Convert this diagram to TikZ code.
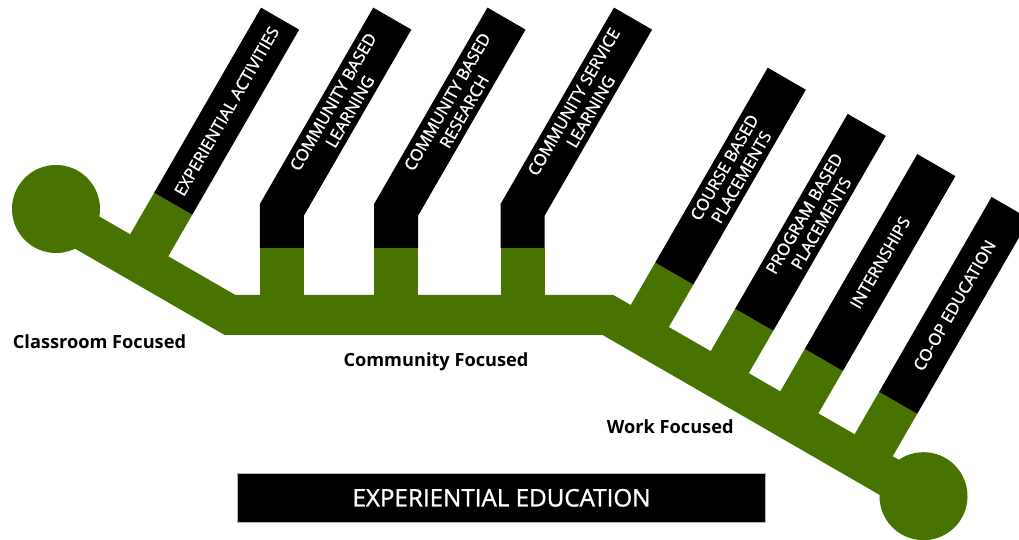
\documentclass[tikz,border=0pt]{standalone}
\usepackage{fontspec}
\setmainfont{Open Sans}
\usetikzlibrary{calc}
\definecolor{trunkgreen}{RGB}{71,115,0}
\begin{document}
\begin{tikzpicture}[x=1pt,y=1pt,
  trunk/.style={line width=40pt, draw=trunkgreen, line join=miter},
  stub/.style={line width=44pt, draw=trunkgreen},
  bar/.style={line width=44pt, draw=black, line join=miter},
  endball/.style={circle, fill=trunkgreen, minimum size=88pt, inner sep=0pt},
  lbl/.style={text=white, font=\fontsize{16.5}{19.5}\selectfont\addfontfeature{FakeBold=1.2}, align=center, rotate=60, inner sep=0pt},
  focus/.style={font=\fontsize{18.2}{21}\selectfont\bfseries, anchor=base west, inner sep=0pt},
  titlebox/.style={draw=gray!60, fill=black, minimum width=528pt, minimum height=49pt, inner sep=0pt, text=white, font=\fontsize{24.2}{28}\selectfont\addfontfeature{FakeBold=1.2}}
]
\useasboundingbox (0,0) rectangle (1019,540);
\clip (0,0) rectangle (1019,540);
% trunk
\coordinate (A) at (56,325.4);
\coordinate (B) at (230,225);
\coordinate (C) at (608,225);
\coordinate (D) at (925,42);
\draw[trunk] (A) -- (B) -- (C) -- (D);
\node[endball] (lc) at (56,331) {};
\node[endball] (rc) at (923.5,43.8) {};
% branch 1
\coordinate (f1) at ($(B)+(150:104.8)$);
\draw[stub] (f1) -- ++(60:68) coordinate (g1);
\draw[bar] (g1) -- ++(60:213.7) coordinate (t1);
\node[lbl] (n1) at ($(g1)!0.5!(t1)$) {EXPERIENTIAL ACTIVITIES};
% branches 2-4
\coordinate (f2) at (281.8,225);
\draw[stub] (f2) -- (281.8,292) coordinate (g2);
\draw[bar] (g2) -- (281.8,330) coordinate (k2) -- ++(60:221) coordinate (t2);
\node[lbl] (n2) at ($(k2)!0.54!(t2)$) {COMMUNITY BASED\\LEARNING};
\coordinate (f3) at (396,225);
\draw[stub] (f3) -- (396,292) coordinate (g3);
\draw[bar] (g3) -- (396,330) coordinate (k3) -- ++(60:221) coordinate (t3);
\node[lbl] (n3) at ($(k3)!0.54!(t3)$) {COMMUNITY BASED\\RESEARCH};
\coordinate (f4) at (522.5,225);
\draw[stub] (f4) -- (522.5,292) coordinate (g4);
\draw[bar] (g4) -- (522.5,330) coordinate (k4) -- ++(60:221) coordinate (t4);
\node[lbl] (n4) at ($(k4)!0.54!(t4)$) {COMMUNITY SERVICE\\LEARNING};
% branches 5-8
\coordinate (f5) at ($(C)+(-30:36.7)$);
\draw[stub] (f5) -- ++(60:69) coordinate (g5);
\draw[bar] (g5) -- ++(60:225) coordinate (t5);
\node[lbl] (n5) at ($(g5)!0.52!(t5)$) {COURSE BASED\\PLACEMENTS};
\coordinate (f6) at ($(C)+(-30:129)$);
\draw[stub] (f6) -- ++(60:69) coordinate (g6);
\draw[bar] (g6) -- ++(60:225) coordinate (t6);
\node[lbl] (n6) at ($(g6)!0.52!(t6)$) {PROGRAM BASED\\PLACEMENTS};
\coordinate (f7) at ($(C)+(-30:209.4)$);
\draw[stub] (f7) -- ++(60:69) coordinate (g7);
\draw[bar] (g7) -- ++(60:225) coordinate (t7);
\node[lbl] (n7) at ($(g7)!0.5!(t7)$) {INTERNSHIPS};
\coordinate (f8) at ($(C)+(-30:295.2)$);
\draw[stub] (f8) -- ++(60:69) coordinate (g8);
\draw[bar] (g8) -- ++(60:225) coordinate (t8);
\node[lbl] (n8) at ($(g8)!0.5!(t8)$) {CO-OP EDUCATION};
% labels
\node[focus] (cf) at (12.7,191.7) {Classroom Focused};
\node[focus] (mf) at (343.3,173.3) {Community Focused};
\node[focus] (wf) at (606.7,106.7) {Work Focused};
\node[titlebox] (ee) at (501.5,42.2) {EXPERIENTIAL EDUCATION};
\end{tikzpicture}
\end{document}
